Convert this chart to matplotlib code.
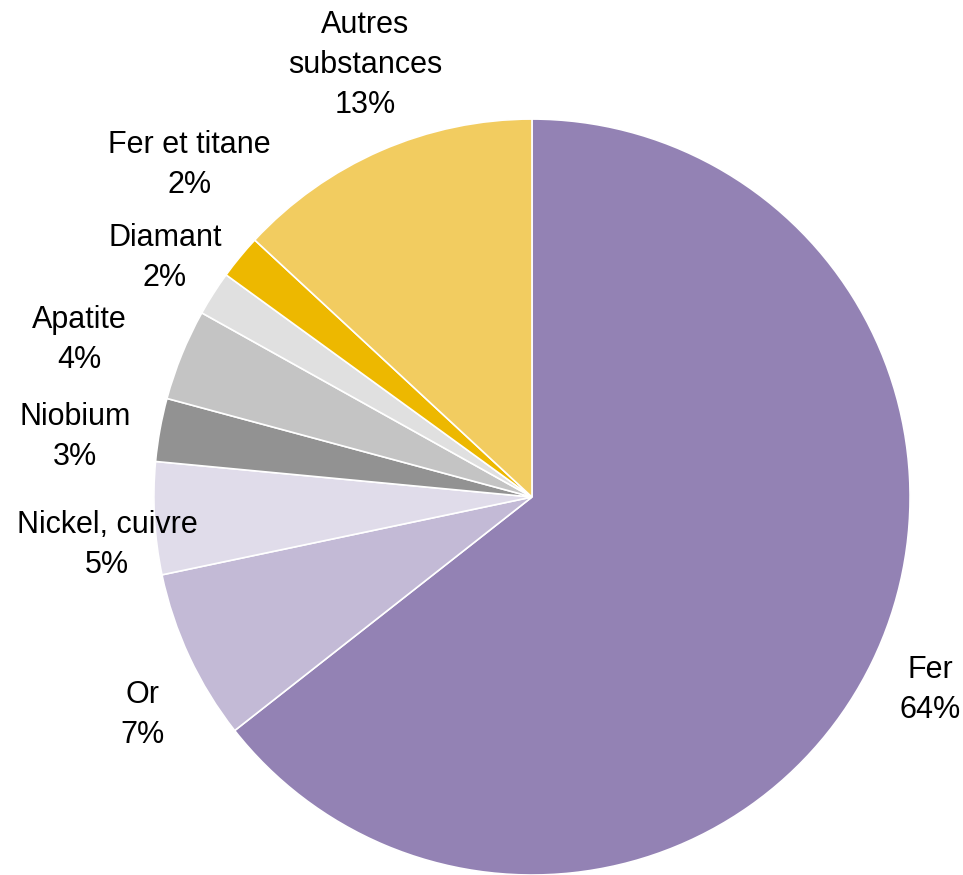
import matplotlib
matplotlib.use("Agg")
import matplotlib.pyplot as plt
from matplotlib import font_manager

names = ["Fer", "Or", "Nickel, cuivre", "Niobium", "Apatite", "Diamant", "Fer et titane", "Autres\nsubstances"]
values = [64.4, 7.3, 4.8, 2.7, 3.9, 1.9, 1.9, 13.1]
colors = ["#9382B4", "#C3BAD6", "#E0DCEA", "#929292", "#C4C4C4", "#E0E0E0", "#EDB800", "#F2CC60"]
# label anchor positions (in units of pie radius, relative to centre)
label_pos = [(1.053, -0.511), (-1.029, -0.577), (-1.124, -0.127), (-1.209, 0.159),
             (-1.196, 0.415), (-0.971, 0.632), (-0.905, 0.878), (-0.442, 1.143)]

avail = {f.name for f in font_manager.fontManager.ttflist}
fam = "Liberation Sans Narrow" if "Liberation Sans Narrow" in avail else "Liberation Sans"

fig = plt.figure(figsize=(9.63, 8.75), dpi=100)
ax = fig.add_axes([0, 0, 1, 1])
ax.pie(values, colors=colors, startangle=90, counterclock=False, radius=1.0,
       wedgeprops=dict(edgecolor="white", linewidth=1.2))
for n, v, (x, y) in zip(names, values, label_pos):
    ax.text(x, y, f"{n}\n{v:.0f}%", ha="center", va="center", fontsize=22,
            family=fam, linespacing=1.45, color="black")
ax.set_xlim(-1.407, 1.140)
ax.set_ylim(-1.0, 1.315)
ax.set_aspect("auto")
ax.axis("off")
fig.savefig("out.png", dpi=100)
